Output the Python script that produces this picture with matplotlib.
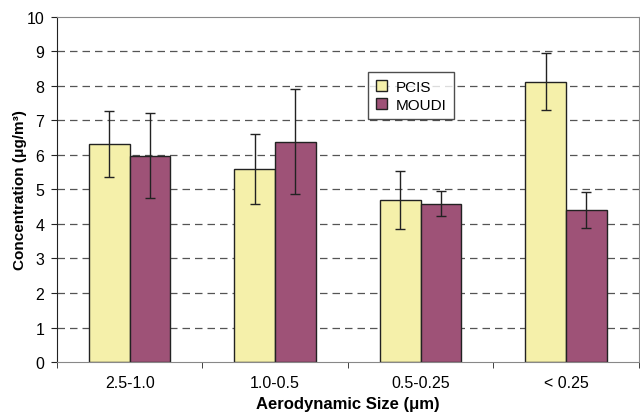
import numpy as np
import matplotlib.pyplot as plt

plt.rcParams['font.family'] = ['Liberation Sans', 'DejaVu Sans']

categories = ['2.5-1.0', '1.0-0.5', '0.5-0.25', '< 0.25']
pcis = [6.32, 5.60, 4.69, 8.12]
pcis_err = [0.95, 1.01, 0.85, 0.83]
moudi = [5.98, 6.38, 4.59, 4.41]
moudi_err = [1.22, 1.52, 0.37, 0.52]

fig = plt.figure(figsize=(6.4, 4.14), dpi=100)
ax = fig.add_axes([0.089, 0.123, 0.909, 0.834])

x = np.arange(len(categories))
w = 0.28
ax.bar(x - w / 2, pcis, w, color='#F5F0AA', edgecolor='#222222', linewidth=1.0,
       label='PCIS', zorder=2)
ax.bar(x + w / 2, moudi, w, color='#9E5277', edgecolor='#222222', linewidth=1.0,
       label='MOUDI', zorder=2)
ax.errorbar(x - w / 2, pcis, yerr=pcis_err, fmt='none', ecolor='#222222',
            elinewidth=1.0, capsize=3.5, capthick=1.0, zorder=3)
ax.errorbar(x + w / 2, moudi, yerr=moudi_err, fmt='none', ecolor='#222222',
            elinewidth=1.0, capsize=3.5, capthick=1.0, zorder=3)

ax.set_xlim(-0.5, len(categories) - 0.5)
ax.set_ylim(0, 10)
ax.set_yticks(range(0, 11))
for yv in range(1, 10):
    ax.axhline(yv, color='#555555', linewidth=0.9, dashes=(6, 4), zorder=1)

ax.set_xticks(x)
ax.set_xticklabels(categories, fontsize=11.5)
ax.set_xticks(np.arange(-0.5, len(categories)), minor=True)
ax.tick_params(axis='x', which='major', length=0, pad=9)
ax.tick_params(axis='x', which='minor', length=4, direction='out', color='#222222')
ax.tick_params(axis='y', length=4, direction='out', labelsize=11.5, color='#222222',
               pad=5)

for s in ['top', 'right', 'bottom']:
    ax.spines[s].set_color('#888888')
ax.spines['left'].set_color('#222222')

ax.set_ylabel('Concentration (\u03bcg/m\u00b3)', fontsize=11, fontweight='bold')
ax.yaxis.set_label_coords(-0.052, 0.5)
ax.set_xlabel('Aerodynamic Size (\u03bcm)', fontsize=12, fontweight='bold', labelpad=4.5)

leg = ax.legend(loc='upper left', bbox_to_anchor=(0.522, 0.862), fontsize=11,
                frameon=True, fancybox=False, edgecolor='#222222',
                handlelength=0.7, handleheight=0.7, handletextpad=0.6,
                borderpad=0.5, labelspacing=0.25)
leg.get_frame().set_linewidth(1.0)

fig.savefig('out.png', dpi=100)
